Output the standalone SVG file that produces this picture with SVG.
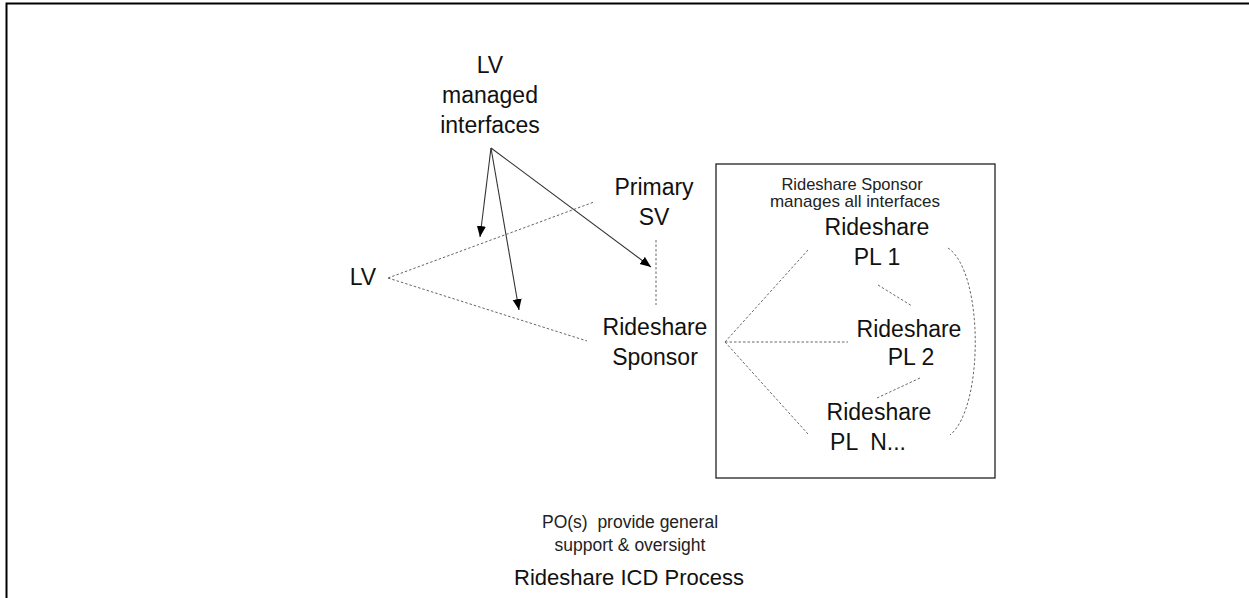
<svg xmlns="http://www.w3.org/2000/svg" width="1249" height="598" viewBox="0 0 1249 598">
  <defs>
    <style>
      .lbl { font-family: "Liberation Sans", Arial, sans-serif; font-size: 23px; fill: #111; text-anchor: middle; }
      .sm { font-family: "Liberation Sans", Arial, sans-serif; font-size: 17.5px; fill: #222; text-anchor: middle; }
      .title { font-family: "Liberation Sans", Arial, sans-serif; font-size: 22px; fill: #111; text-anchor: middle; }
      .dot { fill: none; stroke: #666; stroke-width: 1; stroke-dasharray: 2.5 2; }
      .arr { fill: none; stroke: #333; stroke-width: 1.1; marker-end: url(#ah); }
    </style>
    <marker id="ah" markerUnits="userSpaceOnUse" markerWidth="12" markerHeight="10" refX="11" refY="4.5" orient="auto">
      <path d="M0,0 L11,4.5 L0,9 z" fill="#000"/>
    </marker>
  </defs>
  <rect width="1249" height="598" fill="#fff"/>
  <g id="frame">
    <path d="M6.5,598 L6.5,3.5 L1249,3.5" fill="none" stroke="#000" stroke-width="2"/>
  </g>

  <g id="connectors">
    <line class="arr" x1="491" y1="148" x2="480" y2="237"/>
    <line class="arr" x1="491" y1="148" x2="519" y2="310"/>
    <line class="arr" x1="491" y1="148" x2="651" y2="267"/>
    <line class="dot" x1="388" y1="278" x2="594" y2="202"/>
    <line class="dot" x1="388" y1="278" x2="587" y2="341"/>
    <line class="dot" x1="656" y1="240" x2="656" y2="305"/>
    <line class="dot" x1="725" y1="342" x2="808" y2="250"/>
    <line class="dot" x1="725" y1="342" x2="848" y2="342"/>
    <line class="dot" x1="725" y1="342" x2="808" y2="434"/>
    <line class="dot" x1="878" y1="285" x2="912" y2="306"/>
    <line class="dot" x1="920" y1="378" x2="877" y2="398"/>
    <path class="dot" d="M948,248 C984,272 984,408 950,435"/>
  </g>

  <g id="lv-managed-interfaces">
    <text class="lbl" x="490" y="73">LV</text>
    <text class="lbl" x="490" y="103">managed</text>
    <text class="lbl" x="490" y="133">interfaces</text>
  </g>

  <g id="lv">
    <text class="lbl" x="363" y="285">LV</text>
  </g>

  <g id="primary-sv">
    <text class="lbl" x="654" y="195">Primary</text>
    <text class="lbl" x="654" y="225">SV</text>
  </g>

  <g id="rideshare-sponsor">
    <text class="lbl" x="655" y="335">Rideshare</text>
    <text class="lbl" x="655" y="365">Sponsor</text>
  </g>

  <g id="sponsor-box">
    <rect x="716" y="164" width="279" height="314" fill="none" stroke="#222" stroke-width="1.3"/>
    <text class="sm" x="852" y="190" style="font-size:16.5px">Rideshare Sponsor</text>
    <text class="sm" x="855" y="207" style="font-size:17px">manages all interfaces</text>
  </g>

  <g id="rideshare-pl1">
    <text class="lbl" x="877" y="235">Rideshare</text>
    <text class="lbl" x="877" y="265">PL 1</text>
  </g>

  <g id="rideshare-pl2">
    <text class="lbl" x="909" y="337">Rideshare</text>
    <text class="lbl" x="911" y="365">PL 2</text>
  </g>

  <g id="rideshare-pln">
    <text class="lbl" x="879" y="420">Rideshare</text>
    <text class="lbl" x="868" y="450" xml:space="preserve" style="white-space:pre">PL  N...</text>
  </g>

  <g id="po-note">
    <text class="sm" x="630" y="528" xml:space="preserve" style="white-space:pre">PO(s)  provide general</text>
    <text class="sm" x="630" y="551">support &amp; oversight</text>
  </g>

  <g id="process-title">
    <text class="title" x="629" y="585">Rideshare ICD Process</text>
  </g>
</svg>
